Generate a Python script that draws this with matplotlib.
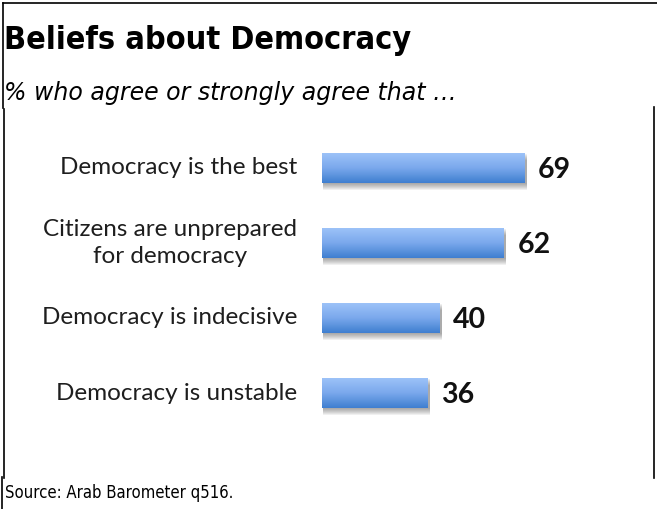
import matplotlib
matplotlib.use("Agg")
import matplotlib.pyplot as plt
import numpy as np
from matplotlib.patches import Rectangle
from matplotlib.colors import LinearSegmentedColormap

categories = ["Democracy is the best",
              "Citizens are unprepared\nfor democracy",
              "Democracy is indecisive",
              "Democracy is unstable"]
values = [69, 62, 40, 36]

title = "Beliefs about Democracy"
subtitle = "% who agree or strongly agree that \u2026"
source = "Source: Arab Barometer q516."

W, H = 657, 509
fig = plt.figure(figsize=(W / 100, H / 100), dpi=100)
fig.patch.set_facecolor("white")


def px(x, y):
    # pixel coords (from top-left) -> figure fraction
    return x / W, 1 - y / H


# frame lines pieced together around the panel
frame = [
    [(2.5, 2.5), (657, 2.5)],
    [(2.5, 2.5), (2.5, 108)],
    [(3.5, 109), (3.5, 478)],
    [(653.5, 107), (653.5, 478)],
    [(1.5, 477), (1.5, 509)],
]
for seg in frame:
    (x0, y0), (x1, y1) = seg
    a, b = px(x0, y0)
    c, d = px(x1, y1)
    fig.add_artist(plt.Line2D([a, c], [b, d], color="black", lw=1.2,
                              transform=fig.transFigure))

fig.text(*px(4, 40), title, fontsize=23.2, fontweight="bold",
         family="DejaVu Sans", fontstretch="condensed", va="center", ha="left")
fig.text(*px(4, 93), subtitle, fontsize=17, style="italic",
         family="DejaVu Sans", va="center", ha="left")
fig.text(*px(5, 493), source, fontsize=12, family="DejaVu Sans",
         fontstretch="condensed", va="center", ha="left")

# bar panel: value 0 at x=322px, 2.93 px per unit, rows 75px apart
left, right = 322, 640
top, bottom = 130, 430
ax = fig.add_axes([left / W, 1 - bottom / H, (right - left) / W, (bottom - top) / H])
scale = 2.93
ax.axis("off")

ypos = np.arange(len(values))
bar_h = 0.4
grad = LinearSegmentedColormap.from_list("g", ["#9cc2f8", "#7aa8ec", "#3f7fd0"])
gradient = np.linspace(0, 1, 64).reshape(-1, 1)

for y, v in zip(ypos, values):
    # soft drop shadow
    for k in range(7):
        off = 0.01 + k * 0.013
        sh = Rectangle((0.5, y - bar_h / 2 + off), v + 0.3, bar_h,
                       facecolor="#444444", alpha=0.08, lw=0, zorder=1)
        ax.add_patch(sh)
    bar = ax.barh(y, v, height=bar_h, color="none", lw=0, zorder=2)[0]
    im = ax.imshow(gradient, cmap=grad, aspect="auto", zorder=3,
                   extent=(0, v, y + bar_h / 2, y - bar_h / 2))
    im.set_clip_path(bar)
    ax.text(v + 14 / scale, y + 0.03, str(v), fontsize=20.5, fontweight="bold",
            family="Lato", va="center", ha="left", color="#111111")

ax.set_xlim(0, (right - left) / scale)
ax.set_ylim((bottom - 168) / 75, (top - 168) / 75)

for y, c in zip(ypos, categories):
    ax.text(-25 / scale, y, c, fontsize=17.5, family="Lato", va="center",
            ha="right", multialignment="center", color="#1e1e1e",
            linespacing=1.35)

fig.savefig("out.png", dpi=100)
